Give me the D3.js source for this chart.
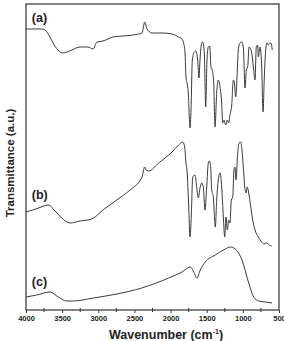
<!DOCTYPE html>
<html>
<head>
<meta charset="utf-8">
<script src="https://cdn.jsdelivr.net/npm/d3@7"></script>
<style>
  body { margin: 0; background: #fff; }
  text { font-family: "Liberation Sans", Arial, sans-serif; }
</style>
</head>
<body>
<svg id="chart" width="284" height="341"></svg>
<script>
// FTIR spectra, wavenumber (cm-1) vs transmittance (a.u.)
const waveA = [4000, 3783, 3737, 3668, 3626, 3557, 3502, 3433, 3364, 3253, 3142, 3073, 3018, 2935, 2796, 2658, 2520, 2395, 2358, 2326, 2257, 2119, 1980, 1888, 1842, 1824, 1800, 1787, 1763, 1755, 1742, 1731, 1717, 1699, 1672, 1652, 1625, 1607, 1593, 1569, 1556, 1533, 1514, 1496, 1478, 1459, 1441, 1423, 1403, 1385, 1362, 1340, 1316, 1293, 1279, 1261, 1237, 1215, 1196, 1178, 1154, 1132, 1118, 1099, 1081, 1063, 1040, 1016, 994, 970, 952, 933, 915, 891, 869, 850, 832, 814, 795, 786, 763, 739, 721, 703, 684, 666, 648, 629, 611, 593];
const transA = [281, 281, 280, 273, 267, 260, 257, 258, 260, 263, 263, 261, 268, 269, 273, 274, 275, 277, 288, 281, 277, 277, 276, 273, 271, 268, 257, 233, 223, 217, 195, 182, 200, 250, 258, 259, 250, 232, 250, 267, 268, 257, 203, 250, 263, 264, 243, 240, 227, 183, 217, 230, 223, 207, 187, 190, 185, 190, 187, 195, 205, 230, 228, 213, 233, 260, 267, 268, 263, 222, 240, 243, 263, 261, 253, 240, 230, 263, 265, 253, 263, 242, 198, 233, 260, 267, 265, 267, 267, 260];

const waveB = [4000, 3862, 3692, 3599, 3506, 3391, 3253, 3091, 2935, 2745, 2561, 2395, 2358, 2340, 2303, 2164, 1980, 1888, 1832, 1805, 1787, 1773, 1749, 1731, 1713, 1694, 1662, 1639, 1616, 1593, 1569, 1547, 1524, 1500, 1478, 1464, 1445, 1431, 1409, 1381, 1362, 1340, 1316, 1293, 1270, 1251, 1233, 1215, 1196, 1178, 1160, 1140, 1123, 1109, 1095, 1071, 1053, 1030, 1012, 994, 974, 956, 939, 919, 891, 864, 832, 786, 739, 708, 670, 634, 601];
const transB = [98, 101, 105, 99, 92, 87, 89, 91, 100, 110, 120, 133, 143, 140, 139, 147, 158, 165, 168, 163, 147, 140, 103, 73, 95, 133, 135, 123, 112, 122, 127, 123, 100, 123, 147, 149, 143, 120, 113, 83, 110, 130, 137, 123, 93, 73, 93, 80, 90, 87, 110, 113, 140, 143, 130, 157, 167, 168, 160, 143, 123, 117, 123, 117, 103, 90, 80, 73, 68, 66, 67, 65, 64];

const waveC = [4000, 3852, 3668, 3553, 3437, 3346, 3069, 2745, 2399, 2026, 1842, 1727, 1680, 1634, 1589, 1520, 1381, 1243, 1174, 1104, 1012, 919, 850, 781, 689, 597];
const transC = [13, 15, 18, 13, 9, 9, 12, 16, 22, 32, 38, 43, 38, 32, 40, 48, 55, 61, 63, 61, 50, 27, 13, 9, 8, 7];

const seriesNames = ["(a)", "(b)", "(c)"];
const xTicks = [4000, 3500, 3000, 2500, 2000, 1500, 1000, 500];
const xMinorTicks = [3750, 3250, 2750, 2250, 1750, 1250, 750];

const svg = d3.select("#chart");
const margin = { top: 4, right: 5, bottom: 31, left: 26 };
const W = 284, H = 341;

const x = d3.scaleLinear().domain([4000, 500]).range([margin.left, W - margin.right]);
const y = d3.scaleLinear().domain([0, 306]).range([H - margin.bottom, margin.top]);

const ink = "#333";

// frame
svg.append("rect")
  .attr("x", margin.left).attr("y", margin.top)
  .attr("width", W - margin.right - margin.left)
  .attr("height", H - margin.bottom - margin.top)
  .attr("fill", "none").attr("stroke", ink).attr("stroke-width", 1.2);

// bottom axis
const xAxis = svg.append("g")
  .attr("transform", `translate(0,${H - margin.bottom})`)
  .call(d3.axisBottom(x).tickValues(xTicks).tickSize(3).tickPadding(3).tickFormat(d3.format("d")));
xAxis.select(".domain").remove();
xAxis.selectAll("line").attr("stroke", ink);
xAxis.selectAll("text")
  .attr("font-size", "7.5px").attr("font-weight", "bold").attr("fill", "#222")
  .attr("font-family", "Liberation Sans, Arial, sans-serif");

svg.append("g")
  .selectAll("line")
  .data(xMinorTicks)
  .join("line")
  .attr("x1", d => x(d)).attr("x2", d => x(d))
  .attr("y1", H - margin.bottom - 2).attr("y2", H - margin.bottom + 2)
  .attr("stroke", ink);

// spectra
const line = d3.line()
  .x(d => x(d[0]))
  .y(d => y(d[1]))
  .curve(d3.curveMonotoneX);

const series = [
  d3.zip(waveA, transA),
  d3.zip(waveB, transB),
  d3.zip(waveC, transC)
];

svg.append("g")
  .selectAll("path")
  .data(series)
  .join("path")
  .attr("d", line)
  .attr("fill", "none")
  .attr("stroke", "#3a3a3a")
  .attr("stroke-width", 1);

// series labels
const labelPos = [[3920, 288], [3920, 111], [3920, 24]];
svg.append("g")
  .selectAll("text")
  .data(seriesNames)
  .join("text")
  .attr("x", (d, i) => x(labelPos[i][0]))
  .attr("y", (d, i) => y(labelPos[i][1]))
  .attr("font-size", "12.5px")
  .attr("font-weight", "bold")
  .attr("fill", "#222")
  .text(d => d);

// axis titles
const xTitle = svg.append("text")
  .attr("x", 166).attr("y", 338.5)
  .attr("text-anchor", "middle")
  .attr("font-size", "12.5px").attr("font-weight", "bold").attr("fill", "#222");
xTitle.append("tspan").text("Wavenumber (cm");
xTitle.append("tspan").attr("font-size", "7px").attr("dy", -5).text("-1");
xTitle.append("tspan").attr("dy", 5).text(")");

svg.append("text")
  .attr("transform", "translate(13.5,163) rotate(-90)")
  .attr("text-anchor", "middle")
  .attr("font-size", "11.5px").attr("font-weight", "bold").attr("fill", "#222")
  .text("Transmittance (a.u.)");
</script>
</body>
</html>
